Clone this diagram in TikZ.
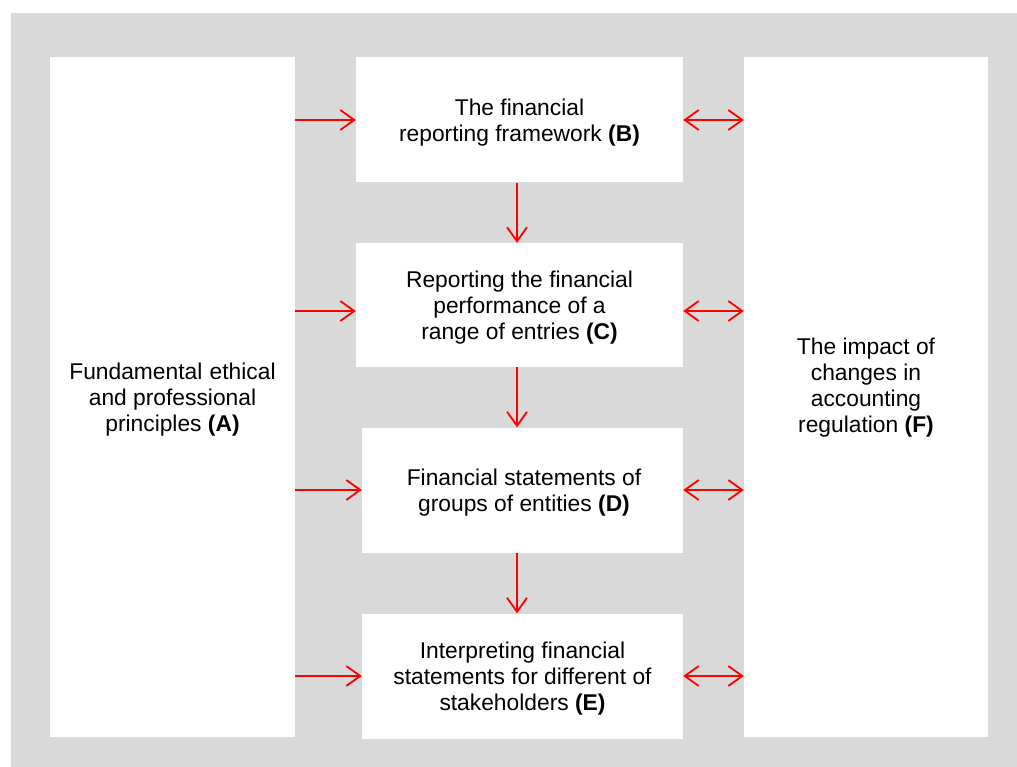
\documentclass[tikz,border=0pt]{standalone}
\usepackage{fontspec}
\setmainfont{Liberation Sans}
\usetikzlibrary{arrows.meta,positioning}
\definecolor{panelgray}{HTML}{D9D9D9}
\begin{document}
\begin{tikzpicture}[x=1pt,y=-1pt,
    box/.style={fill=white, inner sep=0pt},
    caption/.style={align=center, inner sep=0pt, font=\fontsize{22.8}{26}\selectfont},
    link/.style={draw=red, line width=1.8pt, -{Straight Barb[length=14pt,width=20pt]}},
    both/.style={link, {Straight Barb[length=14pt,width=20pt]}-{Straight Barb[length=14pt,width=20pt]}}]
    \useasboundingbox (0,0) rectangle (1017,767);
    % grey panel
    \fill[panelgray] (11,13) rectangle (1017,767);

    % side boxes
    \node[box, minimum width=245pt, minimum height=680pt] (A) at (172.5,397) {};
    \node[box, minimum width=244pt, minimum height=680pt] (F) at (866,397) {};
    \node[caption] (Atext) at (172.5,400)
        {Fundamental\hspace{1pt} ethical\\ and professional\\ principles \textbf{(A)}};
    \node[caption] (Ftext) at (866,388)
        {The impact of\\ changes in\\ accounting\\ regulation \textbf{(F)}};

    % middle column
    \node[box, minimum width=327pt, minimum height=125pt] (B) at (519.5,120) {};
    \node[box, minimum width=327pt, minimum height=124pt] (C) at (519.5,305) {};
    \node[box, minimum width=321pt, minimum height=125pt] (D) at (522.5,490) {};
    \node[box, minimum width=321pt, minimum height=125pt] (E) at (522.5,676) {};
    \node[caption] (Btext) at (519.5,123)
        {The financial\\ reporting framework \textbf{(B)}};
    \node[caption] (Ctext) at (519.5,308)
        {Reporting the financial\\ performance of a\\ range of entries \textbf{(C)}};
    \node[caption] (Dtext) at (524,493)
        {Financial statements of\\ groups of entities \textbf{(D)}};
    \node[caption] (Etext) at (522.5,679)
        {Interpreting financial\\ statements for different of\\ stakeholders \textbf{(E)}};

    % arrows down the column
    \coordinate (col) at (517,0);
    \draw[link] (B.south -| col) -- (C.north -| col);
    \draw[link] (C.south -| col) -- (D.north -| col);
    \draw[link] (D.south -| col) -- (E.north -| col);

    % arrows from A and to F
    \foreach \m/\dy in {B/0, C/6, D/0, E/0} {
        \draw[link] ([yshift=-\dy pt]A.east |- \m.west) -- ([yshift=-\dy pt]\m.west);
        \draw[both] ([yshift=-\dy pt]\m.east) -- ([yshift=-\dy pt]F.west |- \m.east);
    }
\end{tikzpicture}
\end{document}
